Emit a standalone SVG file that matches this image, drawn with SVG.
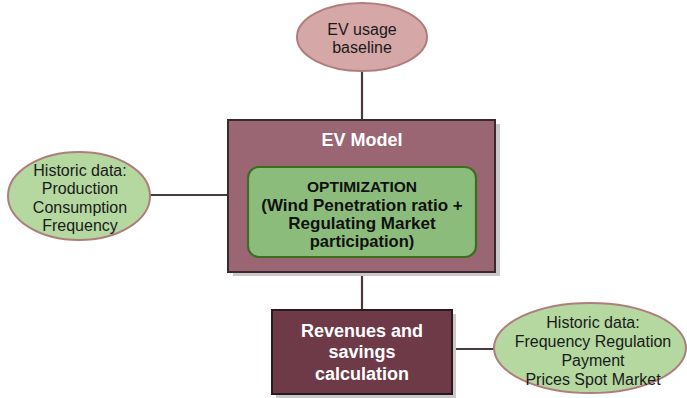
<svg xmlns="http://www.w3.org/2000/svg" width="687" height="398" viewBox="0 0 687 398">
<style>
  .conn { stroke: #4a3a3c; stroke-width: 2.2; fill: none; }
  .ell-pink { fill: #d6a7a7; stroke: #b07d7d; stroke-width: 2; }
  .ell-green { fill: #b4d8a0; stroke: #b07d7d; stroke-width: 2; }
  .shadow { fill: #c9c9c9; }
  .t { font-family: "Liberation Sans", Arial, sans-serif; font-size: 16px; fill: #1a1a1a; text-anchor: middle; }
  .tb { font-family: "Liberation Sans", Arial, sans-serif; font-weight: bold; text-anchor: middle; }
</style>
<rect width="687" height="398" fill="#ffffff"/>
<g id="connectors">
  <line class="conn" x1="362" y1="71" x2="362" y2="120"/>
  <line class="conn" x1="150" y1="195" x2="228" y2="195"/>
  <line class="conn" x1="362" y1="272" x2="362" y2="310"/>
  <line class="conn" x1="452" y1="349" x2="494" y2="349"/>
</g>
<g id="ev-usage">
  <ellipse class="ell-pink" cx="362" cy="37" rx="65" ry="34"/>
  <text class="t" x="362" y="35">EV usage</text>
  <text class="t" x="362" y="53">baseline</text>
</g>
<g id="ev-model">
  <rect class="shadow" x="233" y="124" width="267" height="152"/>
  <rect x="228" y="120" width="267" height="152" fill="#9a6673" stroke="#3b2a30" stroke-width="2"/>
  <text class="tb" x="362" y="146" font-size="18" fill="#ffffff">EV Model</text>
</g>
<g id="optimization">
  <rect x="248" y="167" width="228" height="90" rx="11" ry="11" fill="#8cbc7c" stroke="#3c6e22" stroke-width="2.2"/>
  <text class="tb" x="362" y="192" font-size="15.5" fill="#111111">OPTIMIZATION</text>
  <text class="tb" x="362" y="211" font-size="17" fill="#111111">(Wind Penetration ratio +</text>
  <text class="tb" x="362" y="229" font-size="17" fill="#111111">Regulating Market</text>
  <text class="tb" x="362" y="247" font-size="16.5" fill="#111111">participation)</text>
</g>
<g id="historic-left">
  <ellipse class="ell-green" cx="79" cy="196" rx="71" ry="44"/>
  <text class="t" x="80" y="176">Historic data:</text>
  <text class="t" x="80" y="194">Production</text>
  <text class="t" x="80" y="213">Consumption</text>
  <text class="t" x="80" y="231">Frequency</text>
</g>
<g id="revenues">
  <rect class="shadow" x="276" y="314" width="180" height="84"/>
  <rect x="272" y="310" width="180" height="84" fill="#6f3a48" stroke="#2a1a1e" stroke-width="2"/>
  <text class="tb" x="362" y="337" font-size="18" fill="#ffffff">Revenues and</text>
  <text class="tb" x="362" y="358" font-size="18" fill="#ffffff">savings</text>
  <text class="tb" x="362" y="380" font-size="18" fill="#ffffff">calculation</text>
</g>
<g id="historic-right">
  <ellipse class="ell-green" cx="590" cy="348" rx="96" ry="45"/>
  <text class="t" x="593" y="328">Historic data:</text>
  <text class="t" x="593" y="347">Frequency Regulation</text>
  <text class="t" x="593" y="366">Payment</text>
  <text class="t" x="593" y="385">Prices Spot Market</text>
</g>
</svg>
